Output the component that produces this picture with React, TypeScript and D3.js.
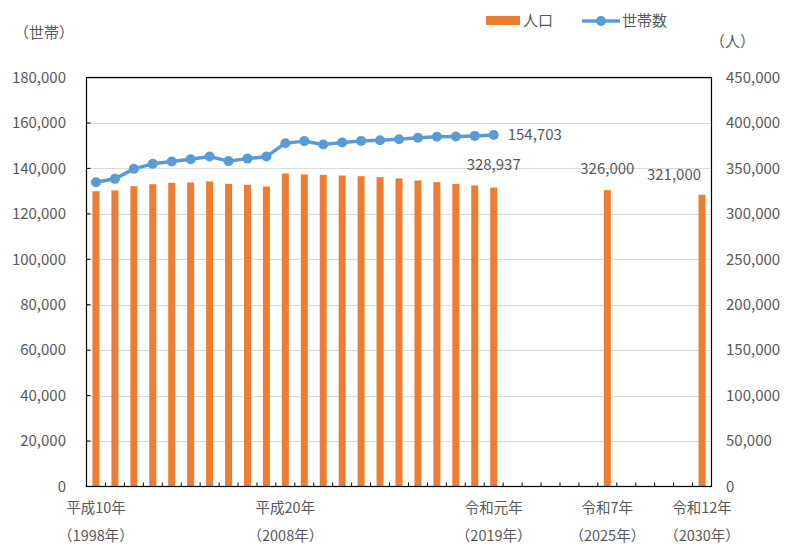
import React from "react";
import * as d3 from "d3";

// Years on the category axis (1998 – 2030)
const years: number[] = d3.range(1998, 2031);

// Population (人) — bars, right axis
const popYears: number[] = [
  1998, 1999, 2000, 2001, 2002, 2003, 2004, 2005, 2006, 2007, 2008,
  2009, 2010, 2011, 2012, 2013, 2014, 2015, 2016, 2017, 2018, 2019,
  2025, 2030,
];
const popValues: number[] = [
  324900, 325700, 330400, 332600, 334100, 334500, 335600, 333000, 331900, 330100, 344400,
  343300, 342900, 342200, 341400, 340300, 338900, 336700, 334800, 333000, 331200, 328937,
  326000, 321000,
];

// Households (世帯) — line, left axis
const hhYears: number[] = d3.range(1998, 2020);
const hhValues: number[] = [
  133900, 135400, 139800, 142000, 143000, 144000, 145200, 143200, 144300, 145200, 151100,
  152000, 150500, 151400, 152100, 152400, 152800, 153500, 153900, 154000, 154300, 154703,
];

const leftTicks: number[] = d3.range(0, 180001, 20000);
const rightTicks: number[] = d3.range(0, 450001, 50000);

// Category labels (two lines each)
const xLabelYears: number[] = [1998, 2008, 2019, 2025, 2030];
const xLabelTop: string[] = ["平成10年", "平成20年", "令和元年", "令和7年", "令和12年"];
const xLabelBottom: string[] = ["（1998年）", "（2008年）", "（2019年）", "（2025年）", "（2030年）"];

// Value callouts
const popLabelYears: number[] = [2019, 2025, 2030];

const W = 786;
const H = 545;
const plot = { left: 86.5, right: 711.5, top: 77.5, bottom: 486.5 };

const ORANGE = "#ED7D31";
const BLUE = "#5B9BD5";
const TEXT = "#595959";
const FONT = "'Noto Sans CJK JP', 'Noto Sans', sans-serif";
const fmt = d3.format(",");

export default function App() {
  const x = d3
    .scaleBand<number>()
    .domain(years)
    .range([plot.left, plot.right])
    .paddingInner(0)
    .paddingOuter(0);
  const yL = d3.scaleLinear().domain([0, 180000]).range([plot.bottom, plot.top]);
  const yR = d3.scaleLinear().domain([0, 450000]).range([plot.bottom, plot.top]);

  const cx = (yr: number) => (x(yr) as number) + x.bandwidth() / 2;
  const barW = 7;

  const line = d3
    .line<number>()
    .x((_, i) => cx(hhYears[i]))
    .y((v) => yL(v));

  const popOf = (yr: number) => popValues[popYears.indexOf(yr)];
  const lastHH = hhValues[hhValues.length - 1];
  const lastHHYear = hhYears[hhYears.length - 1];

  const popLabelDx: number[] = [0, 0, -28];
  const popLabelDy: number[] = [-18, -16, -15];

  return (
    <svg width={W} height={H} style={{ display: "block", position: "absolute", left: 0, top: 0 }} fontFamily={FONT}>
      <rect width={W} height={H} fill="#fff" />

      {/* gridlines */}
      {leftTicks.slice(1).map((t) => (
        <line key={"g" + t} x1={plot.left} x2={plot.right} y1={Math.round(yL(t)) + 0.5} y2={Math.round(yL(t)) + 0.5} stroke="#D9D9D9" strokeWidth={1} />
      ))}

      {/* population bars */}
      {popYears.map((yr, i) => (
        <rect
          key={"b" + yr}
          x={cx(yr) - barW / 2}
          y={yR(popValues[i])}
          width={barW}
          height={plot.bottom - yR(popValues[i])}
          fill={ORANGE}
        />
      ))}

      {/* household line */}
      <path d={line(hhValues) || ""} fill="none" stroke={BLUE} strokeWidth={3.5} strokeLinejoin="round" />
      {hhValues.map((v, i) => (
        <circle key={"c" + i} cx={cx(hhYears[i])} cy={yL(v)} r={5} fill={BLUE} />
      ))}

      {/* plot frame */}
      <rect x={plot.left} y={plot.top} width={plot.right - plot.left} height={plot.bottom - plot.top} fill="none" stroke="#000" strokeWidth={1.2} />

      {/* left ticks (inward) */}
      {leftTicks.map((t) => (
        <line key={"lt" + t} x1={plot.left} x2={plot.left + 4} y1={yL(t)} y2={yL(t)} stroke="#000" />
      ))}
      {/* category ticks (inward) */}
      {d3.range(years.length + 1).map((i) => {
        const xx = plot.left + i * x.bandwidth();
        return <line key={"xt" + i} x1={xx} x2={xx} y1={plot.bottom} y2={plot.bottom - 4} stroke="#000" />;
      })}

      {/* left axis labels */}
      {leftTicks.map((t) => (
        <text key={"ll" + t} x={66} y={yL(t)} dy="0.35em" textAnchor="end" fontSize={15} fill={TEXT}>
          {fmt(t)}
        </text>
      ))}
      {/* right axis labels */}
      {rightTicks.map((t) => (
        <text key={"rl" + t} x={726} y={yR(t)} dy="0.35em" textAnchor="start" fontSize={15} fill={TEXT}>
          {fmt(t)}
        </text>
      ))}

      {/* axis titles */}
      <text x={14} y={38} fontSize={15} fill={TEXT}>（世帯）</text>
      <text x={710} y={47} fontSize={15} fill={TEXT}>（人）</text>

      {/* category labels */}
      {xLabelYears.map((yr, i) => (
        <g key={"xl" + yr}>
          <text x={cx(yr)} y={513} textAnchor="middle" fontSize={14.5} fill={TEXT}>{xLabelTop[i]}</text>
          <text x={cx(yr)} y={541} textAnchor="middle" fontSize={14.5} fill={TEXT}>{xLabelBottom[i]}</text>
        </g>
      ))}

      {/* value callouts */}
      <text x={cx(lastHHYear) + 14} y={yL(lastHH)} dy="0.35em" fontSize={15} fill={TEXT}>
        {fmt(lastHH)}
      </text>
      {popLabelYears.map((yr, i) => (
        <text
          key={"pl" + yr}
          x={cx(yr) + popLabelDx[i]}
          y={yR(popOf(yr)) + popLabelDy[i]}
          textAnchor="middle"
          fontSize={15}
          fill={TEXT}
        >
          {fmt(popOf(yr))}
        </text>
      ))}

      {/* legend */}
      <rect x={486} y={16} width={34} height={9} fill={ORANGE} />
      <text x={523} y={26} fontSize={15} fill={TEXT}>人口</text>
      <line x1={582} x2={620} y1={21} y2={21} stroke={BLUE} strokeWidth={3.5} />
      <circle cx={601} cy={21} r={5} fill={BLUE} />
      <text x={622} y={26} fontSize={15} fill={TEXT}>世帯数</text>
    </svg>
  );
}
